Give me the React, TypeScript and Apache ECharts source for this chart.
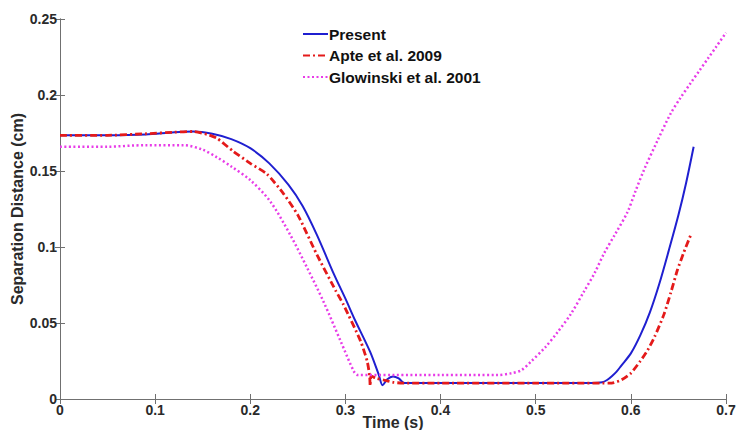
import React, { useEffect, useRef } from "react";
import * as echarts from "echarts";

const xTicks = [0, 0.1, 0.2, 0.3, 0.4, 0.5, 0.6, 0.7];
const yTicks = [0, 0.05, 0.1, 0.15, 0.2, 0.25];

const seriesNames = ["Present", "Apte et al. 2009", "Glowinski et al. 2001"];

const presentData: [number, number][] = [
  [0, 0.1735], [0.05, 0.1735], [0.09, 0.174], [0.12, 0.1755], [0.14, 0.176],
  [0.16, 0.1745], [0.18, 0.171], [0.2, 0.165], [0.22, 0.155], [0.24, 0.141],
  [0.255, 0.127], [0.27, 0.108], [0.288, 0.082], [0.3, 0.066], [0.31, 0.052],
  [0.326, 0.031], [0.335, 0.016], [0.339, 0.009], [0.344, 0.013], [0.35, 0.0148],
  [0.356, 0.0135], [0.362, 0.0105], [0.4, 0.0105], [0.5, 0.0105], [0.56, 0.0105],
  [0.57, 0.011], [0.575, 0.0125], [0.58, 0.015], [0.585, 0.018], [0.59, 0.022],
  [0.6, 0.03], [0.61, 0.042], [0.62, 0.057], [0.63, 0.076], [0.64, 0.098],
  [0.65, 0.121], [0.658, 0.142], [0.666, 0.166],
];

const apteData: [number, number][] = [
  [0, 0.1735], [0.05, 0.1735], [0.09, 0.1745], [0.12, 0.1755], [0.14, 0.176],
  [0.155, 0.174], [0.165, 0.1715], [0.182, 0.163], [0.2, 0.155], [0.2175, 0.148],
  [0.235, 0.135], [0.25, 0.121], [0.27, 0.095], [0.29, 0.071], [0.298, 0.062],
  [0.316, 0.038], [0.323, 0.0245], [0.3255, 0.0147], [0.326, 0.0086], [0.327, 0.015],
  [0.333, 0.0135], [0.34, 0.0125], [0.35, 0.011], [0.36, 0.0105], [0.4, 0.0105],
  [0.5, 0.0105], [0.58, 0.0105], [0.59, 0.0125], [0.6, 0.017], [0.61, 0.025],
  [0.6175, 0.032], [0.625, 0.041], [0.635, 0.056], [0.642, 0.07], [0.649, 0.085],
  [0.656, 0.097], [0.663, 0.108],
];

const glowinskiData: [number, number][] = [
  [0, 0.166], [0.05, 0.166], [0.09, 0.167], [0.13, 0.167], [0.15, 0.164],
  [0.165, 0.159], [0.18, 0.153], [0.2, 0.144], [0.221, 0.13], [0.242, 0.108],
  [0.26, 0.086], [0.277, 0.064], [0.295, 0.038], [0.309, 0.018], [0.313, 0.0158],
  [0.35, 0.0158], [0.4, 0.0158], [0.46, 0.0158], [0.475, 0.017], [0.485, 0.019],
  [0.495, 0.0246], [0.51, 0.034], [0.523, 0.044], [0.537, 0.056], [0.551, 0.071],
  [0.562, 0.083], [0.572, 0.096], [0.584, 0.109], [0.5965, 0.123], [0.605, 0.137],
  [0.614, 0.151], [0.628, 0.17], [0.642, 0.188], [0.652, 0.198], [0.663, 0.208],
  [0.672, 0.216], [0.681, 0.224], [0.69, 0.232], [0.7, 0.241],
];

const FONT = "'Liberation Sans', Arial, sans-serif";
const AXIS_COLOR = "#707070";
const TEXT_COLOR = "#2a2a2a";

export default function App() {
  const ref = useRef<HTMLDivElement>(null);

  useEffect(() => {
    if (!ref.current) return;
    const chart = echarts.init(ref.current, undefined, { renderer: "svg" });
    const xMin = xTicks[0];
    const xMax = xTicks[xTicks.length - 1];
    const yMin = yTicks[0];
    const yMax = yTicks[yTicks.length - 1];
    const xInt = xTicks[1] - xTicks[0];
    const yInt = yTicks[1] - yTicks[0];

    const baseAxisLine = { show: true, lineStyle: { color: AXIS_COLOR, width: 1 } };
    const baseTick = { show: true, inside: true, length: 5, lineStyle: { color: AXIS_COLOR } };
    const tickLabel = {
      fontFamily: FONT,
      fontSize: 14,
      fontWeight: "bold",
      color: TEXT_COLOR,
    };
    const nameStyle = { fontFamily: FONT, fontSize: 16, fontWeight: "bold", color: TEXT_COLOR };

    chart.setOption({
      animation: false,
      backgroundColor: "#ffffff",
      textStyle: { fontFamily: FONT },
      grid: {
        left: 60,
        right: 12,
        top: 19,
        bottom: 31,
        containLabel: false,
        outerBoundsMode: "none",
      },
      legend: {
        orient: "vertical",
        left: 302,
        top: 26,
        padding: 0,
        itemWidth: 25,
        itemHeight: 14,
        itemGap: 5.5,
        data: seriesNames,
        itemStyle: { opacity: 0 },
        textStyle: {
          fontFamily: FONT,
          fontSize: 15.5,
          fontWeight: "bold",
          color: "#111",
          lineHeight: 14,
          padding: [0, 0, 0, -4],
        },
      },
      xAxis: [
        {
          type: "value",
          position: "bottom",
          min: xMin,
          max: xMax,
          interval: xInt,
          name: "Time (s)",
          nameLocation: "middle",
          nameGap: 15,
          nameMoveOverlap: false,
          nameTextStyle: nameStyle,
          axisLine: baseAxisLine,
          axisTick: baseTick,
          splitLine: { show: false },
          axisLabel: { ...tickLabel, margin: 4, showMinLabel: true, showMaxLabel: true },
        },
        {
          type: "value",
          position: "top",
          min: xMin,
          max: xMax,
          interval: xInt,
          axisLine: baseAxisLine,
          axisTick: baseTick,
          splitLine: { show: false },
          axisLabel: { show: false },
        },
      ],
      yAxis: [
        {
          type: "value",
          position: "left",
          min: yMin,
          max: yMax,
          interval: yInt,
          name: "Separation Distance (cm)",
          nameLocation: "middle",
          nameGap: 35,
          nameRotate: 90,
          nameMoveOverlap: false,
          nameTextStyle: nameStyle,
          axisLine: baseAxisLine,
          axisTick: baseTick,
          splitLine: { show: false },
          axisLabel: { ...tickLabel, margin: 3 },
        },
        {
          type: "value",
          position: "right",
          min: yMin,
          max: yMax,
          interval: yInt,
          axisLine: baseAxisLine,
          axisTick: baseTick,
          splitLine: { show: false },
          axisLabel: { show: false },
        },
      ],
      series: [
        {
          name: seriesNames[0],
          type: "line",
          data: presentData,
          showSymbol: false,
          symbol: "none",
          smooth: 0.3,
          lineStyle: { color: "#1f1fd0", width: 2 },
          itemStyle: { color: "#1f1fd0" },
        },
        {
          name: seriesNames[1],
          type: "line",
          data: apteData,
          showSymbol: false,
          symbol: "none",
          smooth: 0.2,
          lineStyle: { color: "#e41a1a", width: 2.8, type: [7, 3, 2, 3] },
          itemStyle: { color: "#e41a1a" },
        },
        {
          name: seriesNames[2],
          type: "line",
          data: glowinskiData,
          showSymbol: false,
          symbol: "none",
          smooth: 0.3,
          lineStyle: { color: "#e83ce8", width: 2.5, type: [2, 2.5] },
          itemStyle: { color: "#e83ce8" },
        },
      ],
    });
    return () => chart.dispose();
  }, []);

  return (
    <div
      ref={ref}
      style={{ position: "fixed", left: 0, top: 0, width: 738, height: 430, background: "#fff" }}
    />
  );
}
